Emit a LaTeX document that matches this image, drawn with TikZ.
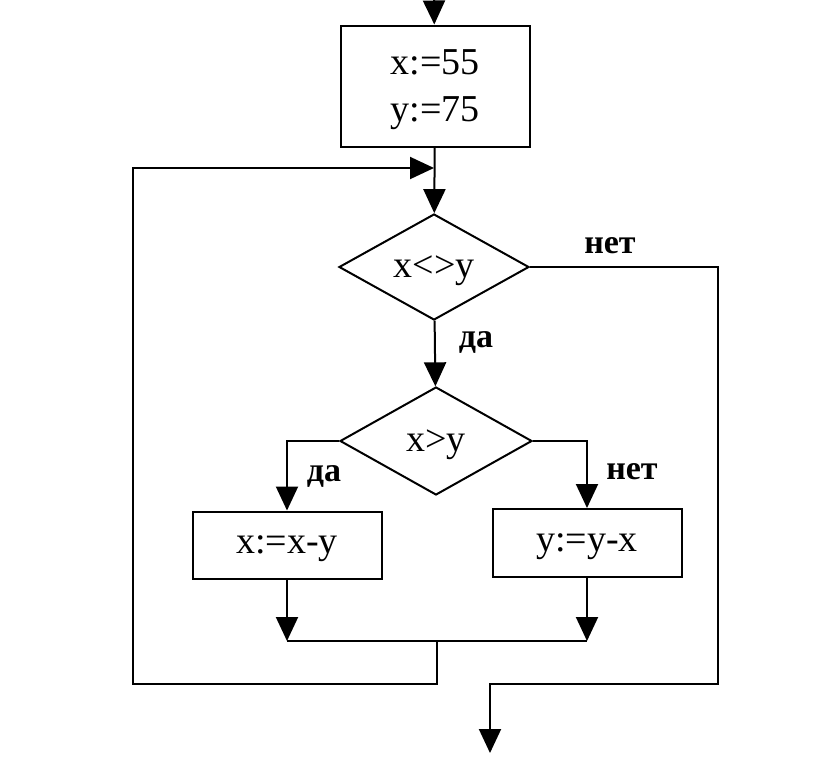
\documentclass[tikz,border=0pt]{standalone}
\usepackage{fontspec}
\setmainfont{Liberation Serif}
\usetikzlibrary{arrows.meta, shapes.geometric, positioning}

\begin{document}
\begin{tikzpicture}[
    x=1pt, y=-1pt,
    every node/.style={anchor=center, inner sep=0pt},
    myarrow/.style={-{Triangle[width=22pt,length=24pt]}, line width=2pt, black},
    myline/.style={line width=2pt, black},
    actbox/.style={rectangle, draw, line width=2pt, minimum width=189pt,
        font=\fontsize{38}{47}\selectfont, align=center, text depth=0pt},
    testbox/.style={diamond, draw, line width=2pt, aspect=2,
        font=\fontsize{38}{47}\selectfont, text depth=0pt},
    answer/.style={font=\bfseries\fontsize{34}{40}\selectfont}
]
\useasboundingbox[fill=white] (0,0) rectangle (838,782);

% blocks
\node[actbox, minimum height=121pt] (init) at (435,86) {x:=55\\y:=75};
\node[testbox, minimum width=190pt, minimum height=106pt] (cond1) at (434,267) {x<>y};
\node[testbox, minimum width=192pt, minimum height=108pt] (cond2) at (436,441) {x>y};
\node[actbox, minimum height=67pt] (decX) at (287,545) {x:=x-y};
\node[actbox, minimum height=68pt] (decY) at (587,543) {y:=y-x};

% free ends and corners
\coordinate (start) at (434,0);
\coordinate (entry) at (434,168);
\coordinate (join) at (437,641);
\coordinate (back) at (133,684);
\coordinate (rc) at (718,684);
\coordinate (out) at (490,753);

% main flow
\draw[myarrow] (start) -- (init);
\draw[myarrow] (init) -- (cond1);
\draw[myarrow] (cond1) -- (cond2);
\draw[myarrow] (cond2.west) -| (decX.north);
\draw[myarrow] (cond2.east) -| (decY.north);
\draw[myarrow] (decX.south) -- (decX.south |- join);
\draw[myarrow] (decY.south) -- (decY.south |- join);
\draw[myline] (decX.south |- join) -- (decY.south |- join);

% loop back and exit
\draw[myarrow] (join) |- (back) |- (entry);
\draw[myarrow] (cond1.east) -| (rc) -| (out);

% answers
\node[answer] (no1) at (610,246) {нет};
\node[answer] (yes1) at (476,342) {да};
\node[answer] (yes2) at (324,476) {да};
\node[answer] (no2) at (632,472) {нет};

\end{tikzpicture}
\end{document}
